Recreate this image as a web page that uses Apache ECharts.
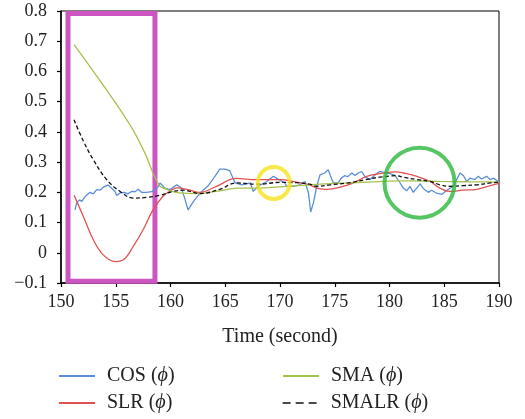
<!DOCTYPE html>
<html>
<head>
<meta charset="utf-8">
<script src="https://cdn.jsdelivr.net/npm/echarts@6/dist/echarts.min.js"></script>
<style>
  html, body { margin: 0; padding: 0; background: #fff; }
  #chart { width: 525px; height: 419px; }
</style>
</head>
<body>
<div id="chart"></div>
<script>
// ---- data ----
const cosTime = [151.28,151.43,151.7,151.9,152.2,152.65,152.95,153.26,153.56,153.87,154.3,154.6,154.93,155.08,155.4,155.8,156.1,156.45,156.75,157.06,157.35,157.8,158.3,158.6,158.9,159.04,159.5,159.95,160.57,161.0,161.3,161.6,162.2,162.85,163.4,164.06,164.5,164.98,165.4,165.9,166.5,167.3,167.56,168.0,168.8,169.4,169.9,170.45,170.6,171.2,171.8,172.28,172.6,172.8,173.05,173.35,173.65,174.1,174.4,174.6,174.87,175.3,175.6,175.9,176.2,176.55,176.85,177.15,177.46,177.76,178.2,178.7,179.1,179.6,180.05,180.5,180.9,181.26,181.57,181.87,182.17,182.5,182.8,183.1,183.55,183.85,184.3,184.77,185.1,185.37,185.83,186.13,186.44,186.74,187.05,187.35,187.8,188.1,188.4,188.87,189.2,189.5,189.8,190.0];
const cosValue = [0.142,0.165,0.175,0.17,0.186,0.2,0.195,0.209,0.207,0.217,0.224,0.214,0.203,0.19,0.198,0.2,0.195,0.203,0.202,0.21,0.2,0.2,0.202,0.209,0.22,0.231,0.214,0.209,0.225,0.214,0.18,0.142,0.175,0.203,0.22,0.253,0.277,0.277,0.272,0.231,0.225,0.231,0.203,0.22,0.236,0.253,0.242,0.231,0.22,0.22,0.225,0.236,0.198,0.135,0.165,0.22,0.258,0.264,0.275,0.256,0.231,0.231,0.247,0.255,0.252,0.264,0.256,0.264,0.269,0.252,0.242,0.258,0.269,0.265,0.262,0.256,0.235,0.214,0.205,0.22,0.2,0.215,0.228,0.212,0.2,0.207,0.197,0.193,0.203,0.21,0.22,0.242,0.264,0.256,0.236,0.247,0.242,0.253,0.244,0.253,0.242,0.247,0.239,0.235];

const slrTime = [151.2,152.04,152.95,153.86,154.93,155.7,156.6,157.5,158.4,159.3,160.0,160.6,161.5,162.7,164.2,166.0,167.9,170.0,171.5,172.7,173.35,174.3,175.5,176.7,177.9,179.1,180.6,181.3,182.5,183.7,184.6,185.5,186.7,188.0,189.2,190.0];
const slrValue = [0.19,0.12,0.043,-0.007,-0.029,-0.023,0.021,0.076,0.142,0.186,0.205,0.215,0.21,0.2,0.22,0.246,0.242,0.242,0.234,0.225,0.214,0.21,0.217,0.231,0.253,0.262,0.268,0.264,0.253,0.236,0.214,0.203,0.207,0.21,0.222,0.23];

const smaTime = [151.19,153.56,155.09,156.6,157.8,158.4,159.04,159.95,160.8,162.7,164.5,166.0,168.0,170.0,172.7,174.6,176.2,178.0,180.0,182.0,184.6,187.0,190.0];
const smaValue = [0.689,0.57,0.49,0.405,0.319,0.264,0.22,0.206,0.198,0.196,0.205,0.214,0.214,0.218,0.225,0.229,0.231,0.234,0.237,0.238,0.236,0.235,0.234];

const smalrTime = [151.19,152.04,152.95,154.17,155.4,156.6,157.8,159.0,160.26,161.2,162.7,164.5,166.0,168.0,170.0,171.5,172.7,173.35,174.6,176.2,177.8,179.1,180.6,181.3,182.5,183.7,184.6,185.5,186.7,188.0,189.2,190.0];
const smalrValue = [0.44,0.37,0.308,0.242,0.203,0.181,0.183,0.19,0.203,0.207,0.196,0.21,0.231,0.227,0.233,0.232,0.227,0.22,0.225,0.231,0.242,0.25,0.255,0.25,0.242,0.236,0.225,0.22,0.222,0.225,0.231,0.234];

const seriesNames = ['COS (ϕ)', 'SLR (ϕ)', 'SMA (ϕ)', 'SMALR (ϕ)'];

// annotation marks (data coordinates)
const boxCorners = [[150.64, 0.792], [158.58, -0.094]];
const yellowCircle = [169.43, 0.231];
const greenCircle = [182.74, 0.232];

// ---- chart ----
const zip = (xs, ys) => xs.map((x, i) => [x, ys[i]]);
const FONT = '"Liberation Serif", "DejaVu Serif", serif';
const chart = echarts.init(document.getElementById('chart'));

const legendText = {
  fontFamily: FONT, fontSize: 20, color: '#222',
  rich: {
    g: { width: 7 },
    t: { fontFamily: FONT, fontSize: 20, color: '#222' },
    i: { fontFamily: FONT, fontSize: 20, color: '#222', fontStyle: 'italic' }
  }
};
const legendFmt = (name) => {
  const base = name.split(' (')[0];
  return '{g|}{t|' + base + ' (}{i|ϕ}{t|)}';
};
const legendPos = [[58, 366], [58, 393], [282, 366], [282, 393]];
const legends = seriesNames.map((n, i) => {
  const lg = {
    data: [n], orient: 'horizontal', left: legendPos[i][0], top: legendPos[i][1],
    padding: 0, itemWidth: 36, itemHeight: 14,
    itemStyle: { color: 'rgba(0,0,0,0)', borderWidth: 0, opacity: 0 },
    textStyle: legendText, formatter: legendFmt, selectedMode: false
  };
  if (i === 3) lg.lineStyle = { type: [8, 5], width: 1.3 };
  return lg;
});

function lineSeries(name, xs, ys, color, dashed, smooth) {
  return {
    name, type: 'line', data: zip(xs, ys),
    showSymbol: false, symbol: 'none', smooth: smooth,
    lineStyle: { color, width: 1.3, type: dashed ? [4, 2.5] : 'solid' },
    itemStyle: { color },
    silent: true, z: 3
  };
}

chart.setOption({
  animation: false,
  backgroundColor: '#fff',
  grid: { left: 61, right: 26, top: 11, bottom: 136, show: true, borderColor: '#000', borderWidth: 1 },
  legend: legends,
  xAxis: {
    type: 'value', min: 150, max: 190, interval: 5,
    name: 'Time (second)', nameLocation: 'middle', nameGap: 44,
    nameTextStyle: { fontFamily: FONT, fontSize: 20, color: '#222' },
    axisLine: { onZero: false, lineStyle: { color: '#000', width: 1.5 } },
    axisTick: { show: true, inside: false, length: 4, lineStyle: { color: '#000', width: 1.2 } },
    axisLabel: { fontFamily: FONT, fontSize: 18, color: '#222', margin: 10 },
    splitLine: { show: false }
  },
  yAxis: {
    type: 'value', min: -0.1, max: 0.8, interval: 0.1,
    axisLine: { show: true, onZero: false, lineStyle: { color: '#000', width: 1.5 } },
    axisTick: { show: true, inside: false, length: 4, lineStyle: { color: '#000', width: 1.2 } },
    axisLabel: {
      fontFamily: FONT, fontSize: 18, color: '#222', margin: 14,
      formatter: (v) => {
        const r = Math.round(v * 10) / 10;
        if (r === 0) return '0';
        return (r < 0 ? '\u2212' : '') + Math.abs(r).toFixed(1);
      }
    },
    splitLine: { show: false }
  },
  series: [
    lineSeries(seriesNames[0], cosTime, cosValue, '#5a8fd8', false, false),
    lineSeries(seriesNames[1], slrTime, slrValue, '#e05252', false, 0.4),
    lineSeries(seriesNames[2], smaTime, smaValue, '#a6c24e', false, 0.15),
    lineSeries(seriesNames[3], smalrTime, smalrValue, '#111111', true, 0.4),
    {
      name: 'annotations', type: 'scatter', silent: true, z: 6,
      data: [
        { value: yellowCircle, symbolSize: 32, itemStyle: { color: 'rgba(0,0,0,0)', borderColor: '#f4e41c', borderWidth: 4 } },
        { value: greenCircle, symbolSize: 70, itemStyle: { color: 'rgba(0,0,0,0)', borderColor: '#2bb83c', borderWidth: 4 } }
      ],
      symbol: 'circle',
      emphasis: { disabled: true },
      markArea: {
        silent: true,
        itemStyle: { color: 'rgba(0,0,0,0)', borderColor: '#cc55c2', borderWidth: 5 },
        data: [[{ coord: boxCorners[0] }, { coord: boxCorners[1] }]]
      }
    }
  ]
});
</script>
</body>
</html>
